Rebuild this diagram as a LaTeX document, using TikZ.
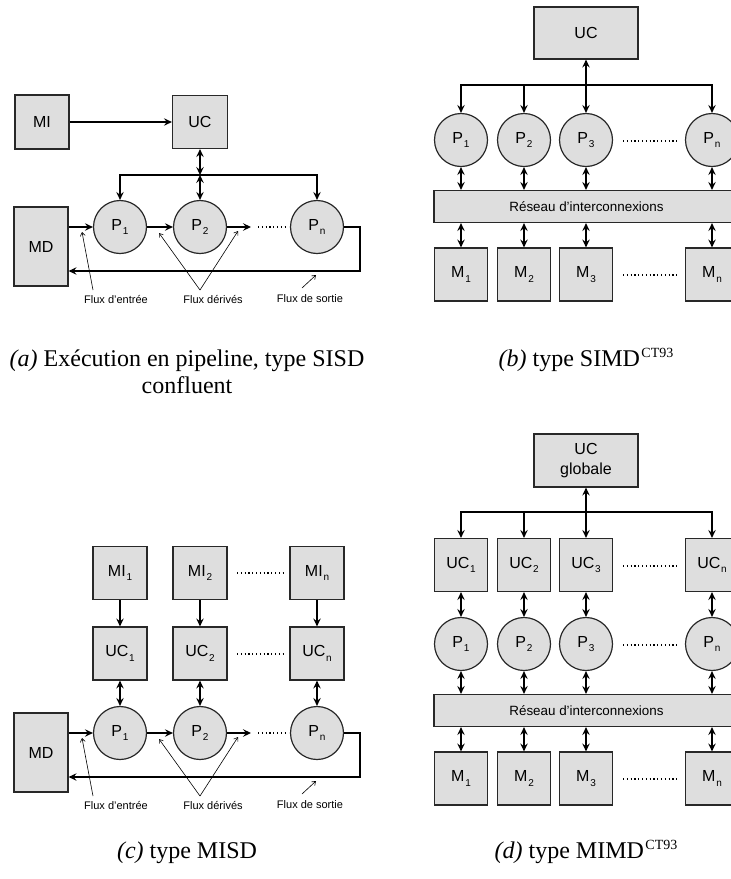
\documentclass[tikz,border=0pt]{standalone}
\usepackage{fontspec}
\setmainfont{Liberation Serif}
\setsansfont{Liberation Sans}
\usetikzlibrary{arrows.meta}
\definecolor{boxfill}{RGB}{222,222,222}
\definecolor{edgecol}{RGB}{40,40,40}
\newcommand\dsub[1]{\kern0.8pt\raisebox{-4.5pt}{\fontsize{10}{10}\selectfont #1}}
\newcommand\capsup[1]{\kern1.5pt\raisebox{8.5pt}{\fontsize{14}{14}\selectfont #1}}
\tikzset{
  bx/.style={draw=edgecol, fill=boxfill, line width=1.2pt, inner sep=0pt,
    font=\sffamily\fontsize{16}{20}\selectfont, align=center},
  sq/.style={bx, minimum width=53pt, minimum height=53pt},
  proc/.style={bx, circle, minimum size=53pt},
  busbox/.style={bx, minimum width=305pt, minimum height=32pt,
    font=\sffamily\fontsize{13.4}{16}\selectfont},
  ar/.style={line width=1.8pt, -{Stealth[length=8pt,width=7.5pt,inset=3pt]}},
  biar/.style={line width=1.8pt, {Stealth[length=8pt,width=7.5pt,inset=3pt]}-{Stealth[length=8pt,width=7.5pt,inset=3pt]}},
  leader/.style={line width=0.6pt, -{Straight Barb[length=3.5pt,width=5pt]}},
  dots/.style={line width=1.1pt, dash pattern=on 1.1pt off 2.7pt},
  flux/.style={font=\sffamily\fontsize{11}{13}\selectfont, inner sep=0pt},
  captext/.style={font=\rmfamily\fontsize{24}{27}\selectfont, inner sep=0pt},
}
\newcommand\pipelinerow{%
  \node[bx, minimum width=54pt, minimum height=79pt] (MD) at (41,246.5) {MD};
  \node[proc] (P1) at (120,227) {P\dsub{1}};
  \node[proc] (P2) at (200,227) {P\dsub{2}};
  \node[proc] (Pn) at (317,227) {P\dsub{n}};
  \coordinate (q) at (251,227);
  \coordinate (d1) at (258,227);
  \coordinate (d2) at (288,227);
  \coordinate (ret) at (360,271);
  \draw[ar] (MD.east |- P1) -- (P1);
  \draw[ar] (P1) -- (P2);
  \draw[ar] (P2) -- (q);
  \draw[dots] (d1) -- (d2);
  \draw[ar] (Pn.east) -| (ret) -- (ret -| MD.east);
  \node[flux] (fe) at (116,299) {Flux d'entrée};
  \node[flux] (fd) at (213,299) {Flux dérivés};
  \node[flux] (fs) at (310,299) {Flux de sortie};
  \coordinate (fe0) at (93,290);  \coordinate (fe1) at (82,232);
  \coordinate (fd0) at (200,290); \coordinate (fd1) at (159,233);
  \coordinate (fd2) at (238,231);
  \coordinate (fs0) at (302,288); \coordinate (fs1) at (316,275);
  \draw[leader] (fe0) -- (fe1);
  \draw[leader] (fd0) -- (fd1);
  \draw[leader] (fd0) -- (fd2);
  \draw[leader] (fs0) -- (fs1);
}
\begin{document}
\begin{tikzpicture}[x=1pt,y=-1pt]
\useasboundingbox (0,0) rectangle (731,879);
\begin{scope}
\clip (0,0) rectangle (731,879);
% ---------------- (a)
\node[sq, minimum width=54pt, minimum height=54pt] (MI) at (42,122) {MI};
\node[sq, minimum width=55pt] (UC) at (200,122) {UC};
\draw[ar] (MI) -- (UC);
\pipelinerow
\coordinate (bus) at (200,175);
\draw[biar] (UC) -- (bus);
\draw[biar] (bus) -- (P2);
\draw[ar] (bus) -| (P1);
\draw[ar] (bus) -| (Pn);
% ---------------- (c)
\begin{scope}[shift={(0,506)}, name prefix=c-]
\pipelinerow
\node[sq, minimum width=54pt] (MI1) at (120,67) {MI\dsub{1}};
\node[sq, minimum width=54pt] (MI2) at (200,67) {MI\dsub{2}};
\node[sq, minimum width=54pt] (MIn) at (317,67) {MI\dsub{n}};
\node[sq, minimum width=54pt] (UC1) at (120,147.5) {UC\dsub{1}};
\node[sq, minimum width=54pt] (UC2) at (200,147.5) {UC\dsub{2}};
\node[sq, minimum width=54pt] (UCn) at (317,147.5) {UC\dsub{n}};
\coordinate (m1) at (237,67);  \coordinate (m2) at (286,67);
\coordinate (u1) at (237,148); \coordinate (u2) at (286,148);
\draw[dots] (m1) -- (m2);
\draw[dots] (u1) -- (u2);
\draw[ar] (MI1) -- (UC1);
\draw[ar] (MI2) -- (UC2);
\draw[ar] (MIn) -- (UCn);
\draw[biar] (UC1) -- (P1);
\draw[biar] (UC2) -- (P2);
\draw[biar] (UCn) -- (Pn);
\end{scope}
% ---------------- (b)
\node[sq, minimum width=104pt, minimum height=52pt] (bUC) at (586,33) {UC};
\node[proc] (bP1) at (461,140) {P\dsub{1}};
\node[proc] (bP2) at (524,140) {P\dsub{2}};
\node[proc] (bP3) at (586,140) {P\dsub{3}};
\node[proc] (bPn) at (712,140) {P\dsub{n}};
\coordinate (bbus) at (586,85);
\draw[biar] (bUC) -- (bP3);
\draw[ar] (bbus) -| (bP1);
\draw[ar] (bbus) -| (bP2);
\draw[ar] (bbus) -| (bPn);
\coordinate (bd1) at (623,141); \coordinate (bd2) at (678,141);
\draw[dots] (bd1) -- (bd2);
\node[busbox] (bR) at (586.5,206.5) {Réseau d'interconnexions};
\foreach \p in {bP1,bP2,bP3,bPn} \draw[biar] (\p) -- (\p |- bR.north);
\node[sq] (bM1) at (461,274.5) {M\dsub{1}};
\node[sq] (bM2) at (524,274.5) {M\dsub{2}};
\node[sq] (bM3) at (586,274.5) {M\dsub{3}};
\node[sq] (bMn) at (712,274.5) {M\dsub{n}};
\foreach \m in {bM1,bM2,bM3,bMn} \draw[biar] (\m |- bR.south) -- (\m);
\coordinate (be1) at (623,275); \coordinate (be2) at (678,275);
\draw[dots] (be1) -- (be2);
% ---------------- (d)
\node[sq, minimum width=104pt, minimum height=53pt] (dUC) at (586,460.5) {UC\\globale};
\node[sq] (dU1) at (461,565) {UC\dsub{1}};
\node[sq] (dU2) at (524,565) {UC\dsub{2}};
\node[sq] (dU3) at (586,565) {UC\dsub{3}};
\node[sq] (dUn) at (712,565) {UC\dsub{n}};
\coordinate (dbus) at (586,512);
\draw[biar] (dUC) -- (dU3);
\draw[ar] (dbus) -| (dU1);
\draw[ar] (dbus) -| (dU2);
\draw[ar] (dbus) -| (dUn);
\coordinate (dd1) at (623,566); \coordinate (dd2) at (678,566);
\draw[dots] (dd1) -- (dd2);
\node[proc] (dP1) at (461,644) {P\dsub{1}};
\node[proc] (dP2) at (524,644) {P\dsub{2}};
\node[proc] (dP3) at (586,644) {P\dsub{3}};
\node[proc] (dPn) at (712,644) {P\dsub{n}};
\draw[biar] (dU1) -- (dP1);
\draw[biar] (dU2) -- (dP2);
\draw[biar] (dU3) -- (dP3);
\draw[biar] (dUn) -- (dPn);
\coordinate (dp1) at (623,645); \coordinate (dp2) at (678,645);
\draw[dots] (dp1) -- (dp2);
\node[busbox] (dR) at (586.5,710.5) {Réseau d'interconnexions};
\foreach \p in {dP1,dP2,dP3,dPn} \draw[biar] (\p) -- (\p |- dR.north);
\node[sq] (dM1) at (461,778.5) {M\dsub{1}};
\node[sq] (dM2) at (524,778.5) {M\dsub{2}};
\node[sq] (dM3) at (586,778.5) {M\dsub{3}};
\node[sq] (dMn) at (712,778.5) {M\dsub{n}};
\foreach \m in {dM1,dM2,dM3,dMn} \draw[biar] (\m |- dR.south) -- (\m);
\coordinate (de1) at (623,779); \coordinate (de2) at (678,779);
\draw[dots] (de1) -- (de2);
% ---------------- captions
\node[captext, anchor=base] (capa1) at (187,366) {\textit{(a)} Exécution en pipeline, type SISD};
\node[captext, anchor=base] (capa2) at (187,393) {confluent};
\node[captext, anchor=base] (capb) at (586,366) {\textit{(b)} type SIMD\capsup{CT93}};
\node[captext, anchor=base] (capc) at (187,858) {\textit{(c)} type MISD};
\node[captext, anchor=base] (capd) at (586,858) {\textit{(d)} type MIMD\capsup{CT93}};
\end{scope}
\end{tikzpicture}
\end{document}
